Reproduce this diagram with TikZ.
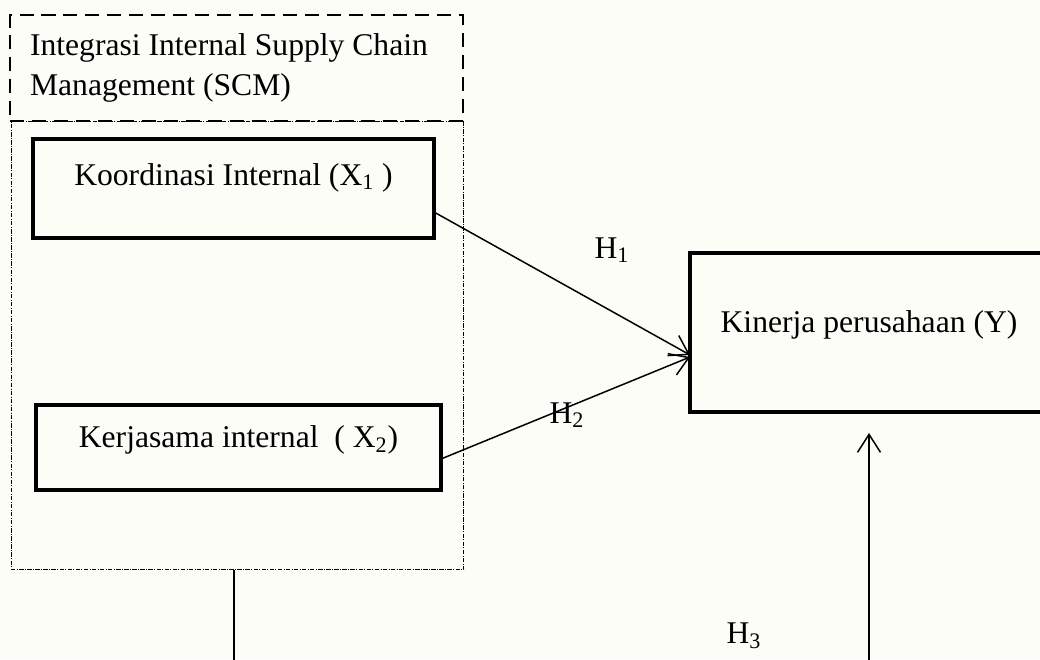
\documentclass[tikz,border=0pt]{standalone}
\usepackage{fontspec}
\setmainfont{Liberation Serif}
\usetikzlibrary{positioning,arrows.meta}
\definecolor{paper}{RGB}{253,253,248}

\tikzset{
  varbox/.style={draw, line width=2.3pt, inner sep=0pt, outer sep=0pt},
  scmbody/.style={draw, line width=0.6pt, dash pattern=on 2.5pt off 0.8pt on 0.5pt off 0.8pt, inner sep=0pt},
  scmhead/.style={draw, line width=1.1pt, dash pattern=on 8pt off 4.5pt, inner xsep=0.4cm, inner ysep=0pt, align=flush left},
  hyparrow/.style={-{Straight Barb[length=3.6mm,width=4.6mm]}, line width=0.85pt},
}

\begin{document}
\begin{tikzpicture}[x=0.02cm, y=-0.02cm, font=\fontsize{18}{22.7}\selectfont]
\fill[paper] (0,0) rectangle (1040,659);
\useasboundingbox (0,0) rectangle (1040,659);
\clip (0,0) rectangle (1040,659);

% kelompok integrasi internal SCM
\node[scmbody, minimum width=9.06cm, minimum height=8.98cm] (scm) at (237.5,345.5) {};
\node[scmhead, minimum height=2.12cm, text width=8.26cm] (head) at (236.5,68)
    {Integrasi Internal Supply Chain\\Management (SCM)};

% variabel
\node[varbox, minimum width=8.02cm, minimum height=1.98cm, text depth=16pt] (kx1) at (233.5,188.5)
    {Koordinasi Internal (X\textsubscript{1} )};
\node[varbox, minimum width=8.1cm, minimum height=1.7cm, text depth=12pt] (kx2) at (238.5,447.5)
    {Kerjasama internal\ \ ( X\textsubscript{2})};
\node[varbox, minimum width=7.16cm, minimum height=3.18cm, text depth=13pt] (ky) at (869,332.5)
    {Kinerja perusahaan (Y)};

% hipotesis
\coordinate (h3foot) at (869,670);
\coordinate (scmfoot) at (234,670);
\draw[hyparrow] ([yshift=-0.47cm]kx1.east) -- ([yshift=-0.45cm]ky.west);
\draw[hyparrow] ([yshift=-0.23cm]kx2.east) -- ([yshift=-0.49cm]ky.west);
\draw[hyparrow] (h3foot) -- ([yshift=-0.42cm]ky.south);
\draw[line width=0.85pt] (scm.south -| scmfoot) -- (scmfoot);

\node (h1) at (612,250) {H\textsubscript{1}};
\node (h2) at (567,415) {H\textsubscript{2}};
\node (h3) at (744,636) {H\textsubscript{3}};
\end{tikzpicture}
\end{document}
